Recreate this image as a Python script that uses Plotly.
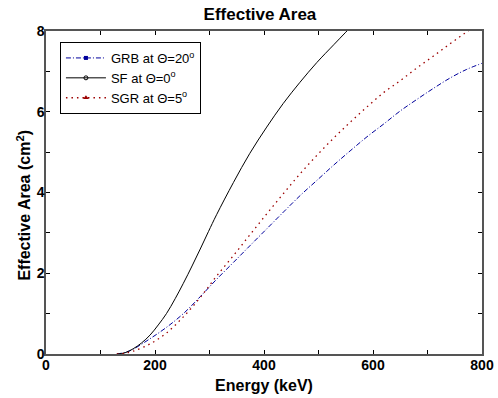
import plotly.graph_objects as go

# Data
sf_E = [130, 145, 160, 175, 191, 206, 221, 237, 252, 268, 283, 298, 313, 344, 374, 405, 435, 466, 497, 528, 550, 565]
sf_V = [0.0, 0.03, 0.13, 0.27, 0.47, 0.72, 1.0, 1.37, 1.75, 2.18, 2.6, 3.03, 3.45, 4.25, 4.97, 5.62, 6.2, 6.73, 7.22, 7.66, 7.97, 8.18]

grb_E = [130, 145, 160, 191, 221, 252, 283, 313, 344, 374, 405, 436, 466, 497, 528, 558, 589, 620, 650, 681, 711, 742, 772, 800]
grb_V = [0.0, 0.04, 0.12, 0.38, 0.66, 1.0, 1.42, 1.85, 2.27, 2.68, 3.1, 3.52, 3.92, 4.3, 4.68, 5.03, 5.38, 5.7, 6.02, 6.31, 6.58, 6.84, 7.05, 7.2]

sgr_E = [130, 145, 160, 191, 221, 252, 283, 313, 344, 374, 405, 436, 466, 497, 528, 558, 589, 620, 650, 681, 711, 742, 772, 800]
sgr_V = [0.0, 0.02, 0.07, 0.25, 0.52, 0.92, 1.4, 1.93, 2.44, 2.95, 3.47, 3.98, 4.46, 4.92, 5.35, 5.74, 6.12, 6.48, 6.77, 7.09, 7.38, 7.69, 7.98, 8.25]

x_ticks = [0, 100, 200, 300, 400, 500, 600, 700, 800]
x_labels = ["0", "", "200", "", "400", "", "600", "", "800"]
y_ticks = [0, 1, 2, 3, 4, 5, 6, 7, 8]
y_labels = ["0", "", "2", "", "4", "", "6", "", "8"]

names = ["GRB at \u0398=20<sup>o</sup>", "SF at \u0398=0<sup>o</sup>", "SGR at \u0398=5<sup>o</sup>"]

BLUE = "#00009c"
RED = "#9c0000"
BLACK = "#000000"
DASHDOT = "5px,2px,1px,2px"
DOT = "1.5px,4px"

fig = go.Figure()
fig.add_trace(go.Scatter(x=grb_E, y=grb_V, mode="lines", line=dict(color=BLUE, width=1, dash=DASHDOT, shape="spline", smoothing=1), showlegend=False))
fig.add_trace(go.Scatter(x=sf_E, y=sf_V, mode="lines", line=dict(color=BLACK, width=1, shape="spline", smoothing=1), showlegend=False))
fig.add_trace(go.Scatter(x=sgr_E, y=sgr_V, mode="lines", line=dict(color=RED, width=1.3, dash=DOT, shape="spline", smoothing=1), showlegend=False))

# legend entries
fig.add_trace(go.Scatter(x=[None], y=[None], mode="lines+markers", name=names[0],
                         line=dict(color=BLUE, width=1, dash=DASHDOT), marker=dict(symbol="square", size=4, color=BLUE)))
fig.add_trace(go.Scatter(x=[None], y=[None], mode="lines+markers", name=names[1],
                         line=dict(color=BLACK, width=1), marker=dict(symbol="circle-open", size=4, color=BLACK)))
fig.add_trace(go.Scatter(x=[None], y=[None], mode="lines+markers", name=names[2],
                         line=dict(color=RED, width=1.3, dash=DOT), marker=dict(symbol="triangle-up", size=5, color=RED)))

fig.update_layout(
    width=498, height=398,
    margin=dict(l=46, r=16, t=31, b=44),
    paper_bgcolor="white", plot_bgcolor="white",
    font=dict(family="Liberation Sans, Arial, sans-serif", color="black"),
    title=dict(text="<b>Effective Area</b>", x=0.522, xanchor="center", y=0.965, yanchor="middle",
               font=dict(size=17, color="black")),
    xaxis=dict(range=[0, 800], tickvals=x_ticks, ticktext=x_labels, ticks="inside", ticklen=4,
               tickcolor="black", showline=True, linecolor="#555555", linewidth=1.5, mirror="ticks",
               showgrid=False, zeroline=False, automargin=False, ticklabelstandoff=-3,
               tickfont=dict(size=14, weight="bold"),
               title=dict(text="<b>Energy (keV)</b>", font=dict(size=16), standoff=8)),
    yaxis=dict(range=[0, 8], tickvals=y_ticks, ticktext=y_labels, ticks="inside", ticklen=4,
               tickcolor="black", showline=True, linecolor="#555555", linewidth=1.5, mirror="ticks",
               showgrid=False, zeroline=False, automargin=False, ticklabelstandoff=-3,
               tickfont=dict(size=14, weight="bold")),
    annotations=[dict(text="<b>Effective Area (cm<sup>2</sup>)</b>", xref="paper", yref="paper",
                      x=-0.05, y=0.46, xanchor="center", yanchor="middle", textangle=-90,
                      showarrow=False, font=dict(size=16, color="black"))],
    legend=dict(x=0.032, y=0.966, xanchor="left", yanchor="top", bgcolor="white",
                bordercolor="black", borderwidth=1, font=dict(size=13, color="black"),
                itemwidth=40, tracegroupgap=0),
)

fig.write_html("out.html")
